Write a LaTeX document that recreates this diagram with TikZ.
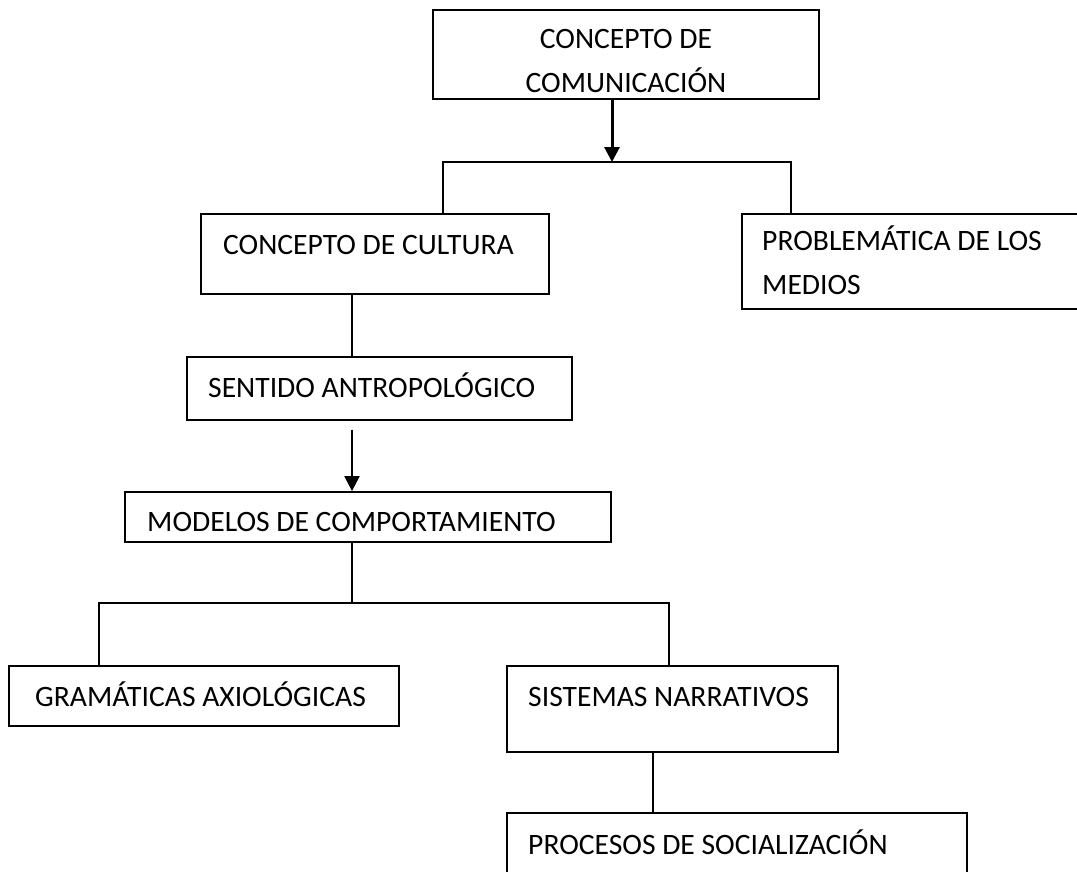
\documentclass[tikz,border=0pt]{standalone}
\usepackage{fontspec}
\setmainfont{Carlito}
\usetikzlibrary{arrows.meta}
\tikzset{box/.style = {rectangle, draw, line width=1.8pt, inner sep=0pt},
    lbl/.style = {inner sep=0pt, font=\fontsize{29.6}{44}\selectfont},
    ln/.style  = {line width=1.6pt},
    arr/.style = {-{Triangle[width=15pt,length=15pt]}}}

\begin{document}
\begin{tikzpicture}[x=1pt, y=-1pt]
        \useasboundingbox (0,0) rectangle (1077,871);
        \foreach \n/\x/\y/\w/\h in {com/626/54.5/386/89, cult/375/254/348/80,
            prob/918.5/261.5/353/95, sent/379.5/388.5/385/63, mod/368/517/486/50,
            gram/204/696/390/60, sist/672.5/709/331/86, proc/737/851.5/460/77}
            \node[box, minimum width=\w pt, minimum height=\h pt] (\n) at (\x,\y) {};

        \node[lbl, anchor=base, align=center] (com-t) at (626,92) {CONCEPTO DE\\COMUNICACIÓN};
        \node[lbl, anchor=base west] (cult-t) at (223,254) {CONCEPTO DE CULTURA};
        \node[lbl, anchor=base west, align=left] (prob-t) at (762,294) {PROBLEMÁTICA DE LOS\\MEDIOS};
        \node[lbl, anchor=base west] (sent-t) at (208,397) {SENTIDO ANTROPOLÓGICO};
        \node[lbl, anchor=base west] (mod-t) at (147,531) {MODELOS DE COMPORTAMIENTO};
        \node[lbl, anchor=base west] (gram-t) at (35,706) {GRAMÁTICAS AXIOLÓGICAS};
        \node[lbl, anchor=base west] (sist-t) at (528,706) {SISTEMAS NARRATIVOS};
        \node[lbl, anchor=base west] (proc-t) at (528,854) {PROCESOS DE SOCIALIZACIÓN};

        \coordinate (j1) at (612,162);
        \coordinate (j1l) at (443,162);
        \coordinate (j1r) at (791,162);
        \coordinate (m1) at (352,603);
        \coordinate (m1l) at (99,603);
        \coordinate (m1r) at (669,603);
        \coordinate (s1) at (653,780);

        \draw [arr, line width=3pt] (com.south -| j1) -- (j1);
        \draw [ln] (j1l |- cult.north) -- (j1l) -- (j1r) -- (j1r |- prob.north);
        \draw [ln] (cult.south -| m1) -- (sent.north -| m1);
        \draw [arr, line width=2.2pt, shorten <=9pt] (sent.south -| m1) -- (mod.north -| m1);
        \draw [ln] (mod.south -| m1) -- (m1);
        \draw [ln] (m1l |- gram.north) -- (m1l) -- (m1r) -- (m1r |- sist.north);
        \draw [ln] (sist.south -| s1) -- (proc.north -| s1);
    \end{tikzpicture}
\end{document}
